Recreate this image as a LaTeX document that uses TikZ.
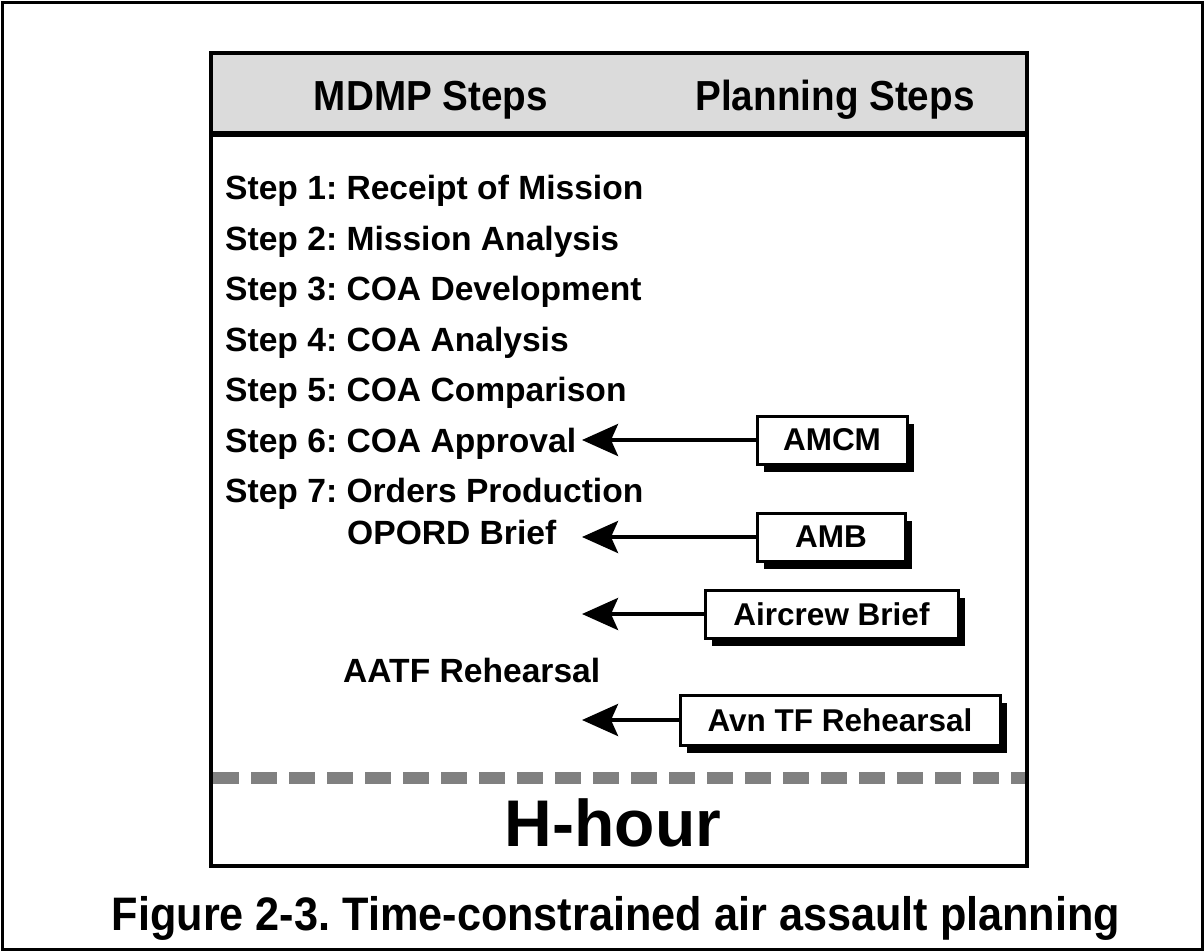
\documentclass[tikz,border=0pt]{standalone}
\usepackage{fontspec}
\setmainfont{Liberation Sans}
\newfontfamily\condfont[FakeStretch=0.92]{Liberation Sans}
\usetikzlibrary{arrows.meta,shadows}
\frenchspacing
\begin{document}
\begin{tikzpicture}[x=1pt,y=-1pt,
  steptext/.style={anchor=base west,inner sep=0pt,font=\fontsize{33.6}{40}\selectfont\bfseries},
  headtext/.style={anchor=base,inner sep=0pt,font=\fontsize{42}{48}\selectfont\condfont\bfseries},
  planbox/.style={draw,line width=3pt,fill=white,inner sep=0pt,minimum height=48pt,
     font=\fontsize{31.5}{36}\selectfont\bfseries,
     drop shadow={shadow xshift=7pt,shadow yshift=-8pt,fill=black,opacity=1}},
  feed/.style={line width=4pt,-{Stealth[length=36pt,width=32pt,inset=7pt]}}]
\useasboundingbox (0,0) rectangle (1204,951);
% outer frame
\draw[line width=3pt] (2,2) rectangle (1202,949);
% main box
\fill[gray!28] (211,53) rectangle (1027,134);
\draw[line width=6pt] (211,134) -- (1027,134);
\draw[line width=4.5pt] (211,53) rectangle (1027,866);
% header
\node[headtext] (hm) at (431,110) {MDMP Steps};
\node[headtext] (hp) at (835,110) {Planning Steps};
% steps
\node[steptext] (s1) at (225,199) {Step 1: Receipt of Mission};
\node[steptext] (s2) at (225,250) {Step 2: Mission Analysis};
\node[steptext] (s3) at (225,300) {Step 3: COA Development};
\node[steptext] (s4) at (225,351) {Step 4: COA Analysis};
\node[steptext] (s5) at (225,401) {Step 5: COA Comparison};
\node[steptext] (s6) at (225,452) {Step 6: COA Approval};
\node[steptext] (s7) at (225,502) {Step 7: Orders Production};
\node[steptext] (op) at (347,544) {OPORD Brief};
\node[steptext] (aa) at (343,682) {AATF Rehearsal};
% planning boxes
\node[planbox,minimum width=150pt] (amcm) at (832,440) {AMCM};
\node[planbox,minimum width=148pt] (amb) at (831,537) {AMB};
\node[planbox,minimum width=253pt] (acb) at (831.5,614) {Aircrew Brief};
\node[planbox,minimum width=320pt,minimum height=50pt] (avn) at (840,720) {Avn TF Rehearsal};
\coordinate (t1) at (582,440);
\coordinate (t2) at (582,537);
\coordinate (t3) at (582,614);
\coordinate (t4) at (582,720);
\draw[feed] (amcm.west) -- (t1);
\draw[feed] (amb.west) -- (t2);
\draw[feed] (acb.west) -- (t3);
\draw[feed] (avn.west) -- (t4);
% H-hour line
\coordinate (dl) at (213,778);
\coordinate (dr) at (1025,778);
\draw[line width=12pt,gray,dash pattern=on 26pt off 12pt] (dl) -- (dr);
\node[anchor=base,inner sep=0pt,font=\fontsize{66}{72}\selectfont\bfseries] (hh) at (613,846) {H-hour};
% caption
\node[anchor=base,inner sep=0pt,font=\fontsize{47}{52}\selectfont\condfont\bfseries] (cap) at (616,930) {Figure 2-3. Time-constrained air assault planning};
\end{tikzpicture}
\end{document}
